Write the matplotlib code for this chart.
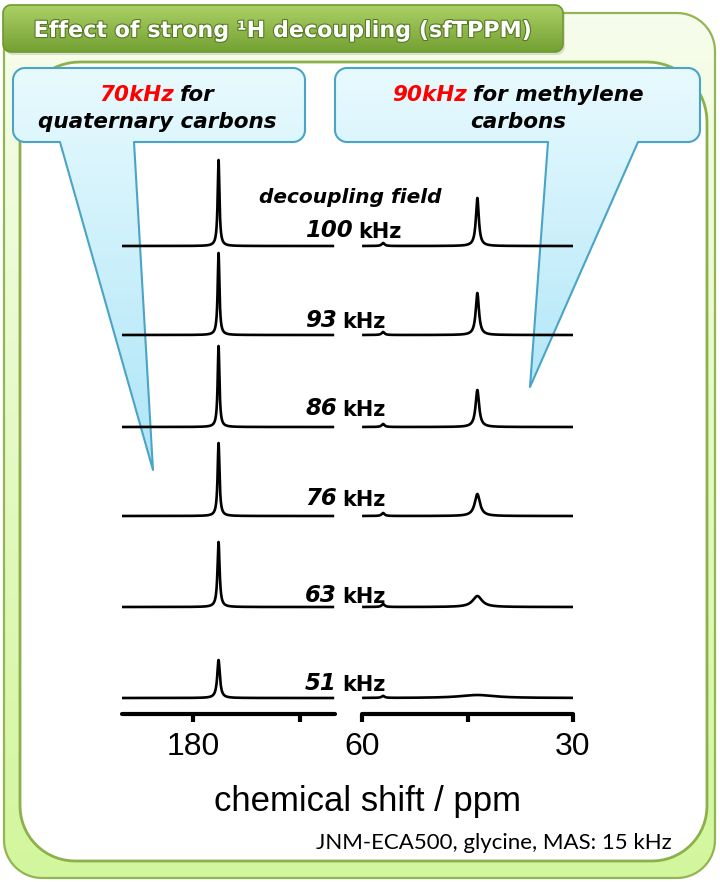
import numpy as np
import matplotlib
matplotlib.use("Agg")
import matplotlib.pyplot as plt
from matplotlib.patches import Polygon
from matplotlib.colors import LinearSegmentedColormap
import matplotlib.patheffects as pe

# ---------------- data ----------------
fields = [100, 93, 86, 76, 63, 51]              # decoupling field / kHz
trace_offsets = [468, 379, 287, 198, 107, 16]   # vertical stacking offsets
co_shift = 176.4                                 # carbonyl (quaternary) ppm
ch2_shift = 43.6                                 # methylene ppm
sb_shift = 57.0                                  # small peak ppm
co_heights = [86, 82, 81, 73, 65, 38]
co_widths = [0.30, 0.30, 0.30, 0.32, 0.36, 0.45]
ch2_heights = [48, 42, 37, 22, 11, 3]
ch2_widths = [0.50, 0.55, 0.60, 0.90, 1.60, 6.0]
sb_heights = [3, 3, 3, 3, 3, 2]
left_range = (190, 160)
right_range = (60, 30)
left_ticks = [180, 165]
left_ticklabels = ["180", ""]
right_ticks = [60, 45, 30]
right_ticklabels = ["60", "", "30"]

title = "Effect of strong \u00b9H decoupling (sfTPPM)"
xlabel = "chemical shift / ppm"
footer = "JNM-ECA500, glycine, MAS: 15 kHz"

W, H = 720, 882
fig = plt.figure(figsize=(W / 100, H / 100), dpi=100)
fig.patch.set_facecolor("white")

bg = fig.add_axes([0, 0, 1, 1], zorder=0)
bg.axis("off")


def rounded_pts(x0, y0, x1, y1, r, pointer=None, n=16):
    if np.isscalar(r):
        r = (r, r, r, r)
    rtl, rtr, rbr, rbl = r
    pts = []

    def arc(cx, cy, rad, a0, a1):
        t = np.radians(np.linspace(a0, a1, n))
        return list(zip(cx + rad * np.cos(t), cy + rad * np.sin(t)))

    pts += arc(x0 + rtl, y0 + rtl, rtl, 180, 270)
    pts += arc(x1 - rtr, y0 + rtr, rtr, 270, 360)
    pts += arc(x1 - rbr, y1 - rbr, rbr, 0, 90)
    if pointer:
        pts += pointer
    pts += arc(x0 + rbl, y1 - rbl, rbl, 90, 180)
    return pts


def grad_fill(ax, pts, c_top, c_bot, edge="none", lw=1.5, z=1):
    arr = np.array(pts)
    poly = Polygon(arr, closed=True, facecolor="none", edgecolor=edge,
                   lw=lw, zorder=z + 0.1, joinstyle="round")
    ax.add_patch(poly)
    grad = np.linspace(0, 1, 256)[:, None]
    cmap = LinearSegmentedColormap.from_list("g", [c_top, c_bot])
    im = ax.imshow(grad, cmap=cmap, aspect="auto", interpolation="bilinear",
                   extent=(arr[:, 0].min(), arr[:, 0].max(),
                           arr[:, 1].max(), arr[:, 1].min()), zorder=z)
    im.set_clip_path(poly)
    return poly


# outer frame
grad_fill(bg, rounded_pts(4, 13, 715, 878, 38), "#f7fdec", "#d2f69d",
          edge="#93b552", lw=1.6, z=1)
# inner white panel
bg.add_patch(Polygon(rounded_pts(20, 62, 707, 861, (60, 60, 55, 55)), closed=True,
                     facecolor="white", edgecolor="#8cb04a", lw=2.0, zorder=2))
# title banner (shadow + gradient)
bg.add_patch(Polygon(rounded_pts(5, 8, 565, 55, 8), closed=True,
                     facecolor="#404040", edgecolor="none", alpha=0.15, zorder=3))
grad_fill(bg, rounded_pts(3, 5, 563, 52, 8), "#abd166", "#74a032",
          edge="#6d9a30", lw=1.2, z=4)

# callouts
grad_fill(bg, rounded_pts(13, 68, 305, 142, 12,
                          pointer=[(134, 142), (153, 470), (60, 142)]),
          "#e8fafe", "#ade5f7", edge="#4aa4c6", lw=1.5, z=5)
grad_fill(bg, rounded_pts(335, 68, 700, 142, 12,
                          pointer=[(638, 142), (530, 387), (548, 142)]),
          "#e8fafe", "#b3e7f8", edge="#4aa4c6", lw=1.5, z=5)

bg.set_xlim(0, W)
bg.set_ylim(H, 0)

# ---------------- spectra ----------------
def lor(x, x0, h, w):
    return h / (1.0 + ((x - x0) / (w / 2.0)) ** 2)


ax_y0 = (H - 714) / H
ax_h = 564 / H
axL = fig.add_axes([122 / W, ax_y0, (335 - 122) / W, ax_h], zorder=3)
axR = fig.add_axes([362 / W, ax_y0, (573 - 362) / W, ax_h], zorder=3)

xL = np.linspace(left_range[0], left_range[1] + 0.3, 4000)
xR = np.linspace(right_range[0] - 0.2, right_range[1], 4000)
for i in range(len(fields)):
    yl = trace_offsets[i] + lor(xL, co_shift, co_heights[i], co_widths[i])
    yr = (trace_offsets[i] + lor(xR, ch2_shift, ch2_heights[i], ch2_widths[i])
          + lor(xR, sb_shift, sb_heights[i], 0.5))
    axL.plot(xL, yl, color="black", lw=1.9, solid_joinstyle="round")
    axR.plot(xR, yr, color="black", lw=1.9, solid_joinstyle="round")

for ax, rng, tks, tls in [(axL, left_range, left_ticks, left_ticklabels),
                          (axR, right_range, right_ticks, right_ticklabels)]:
    ax.set_xlim(*rng)
    ax.set_ylim(0, 564)
    ax.patch.set_alpha(0)
    for s in ["top", "left", "right"]:
        ax.spines[s].set_visible(False)
    ax.spines["bottom"].set_linewidth(3.0)
    ax.spines["bottom"].set_capstyle("round")
    ax.set_yticks([])
    ax.set_xticks(tks)
    ax.set_xticklabels(tls)
    ax.tick_params(axis="x", direction="out", length=6, width=3, pad=7,
                   labelsize=23)
    for lab in ax.get_xticklabels():
        lab.set_family("Liberation Sans")

# ---------------- text overlay ----------------
fg = fig.add_axes([0, 0, 1, 1], zorder=6)
fg.axis("off")
fg.set_xlim(0, W)
fg.set_ylim(H, 0)
fg.patch.set_alpha(0)

fg.text(283, 31, title, color="white", fontsize=16, fontweight="bold",
        ha="center", va="center", family="DejaVu Sans",
        path_effects=[pe.withStroke(linewidth=1.6, foreground="#557a22")])

renderer = fig.canvas.get_renderer()


def multi_text(ax, xc, y, pieces, gap=6, **kw):
    objs = []
    widths = []
    for s, c in pieces:
        t = ax.text(0, y, s, color=c, ha="left", va="baseline", **kw)
        bb = t.get_window_extent(renderer=renderer)
        objs.append(t)
        widths.append(bb.width)
    total = sum(widths) + gap * (len(pieces) - 1)
    x = xc - total / 2
    for t, w in zip(objs, widths):
        t.set_x(x)
        x += w + gap


ck = dict(fontsize=15.5, fontweight="bold", style="italic", family="DejaVu Sans")
multi_text(fg, 157, 101, [("70kHz", "#ff0000"), ("for", "black")], **ck)
multi_text(fg, 157, 128, [("quaternary carbons", "black")], **ck)
multi_text(fg, 518, 101, [("90kHz", "#ff0000"), ("for methylene", "black")], **ck)
multi_text(fg, 518, 128, [("carbons", "black")], **ck)

fg.text(350, 203, "decoupling field", fontsize=14.5, fontweight="bold",
        style="italic", ha="center", va="baseline", family="DejaVu Sans")
label_baselines = [237, 327, 415, 505, 602, 690]
for f, yb in zip(fields, label_baselines):
    t = fg.text(305, yb, str(f), fontsize=16.5, fontweight="bold", style="italic",
                ha="left", va="baseline", family="DejaVu Sans")
    fg.annotate("kHz", xy=(1, 0), xycoords=t, xytext=(4, 0),
                textcoords="offset points", fontsize=15, fontweight="bold",
                ha="left", va="bottom", family="DejaVu Sans")

fg.text(368, 811, xlabel, fontsize=25, ha="center", va="baseline",
        family="Liberation Sans")
fg.text(672, 849, footer, fontsize=16, ha="right", va="baseline",
        family="Lato")

fig.savefig("out.png", dpi=100, facecolor="white")
